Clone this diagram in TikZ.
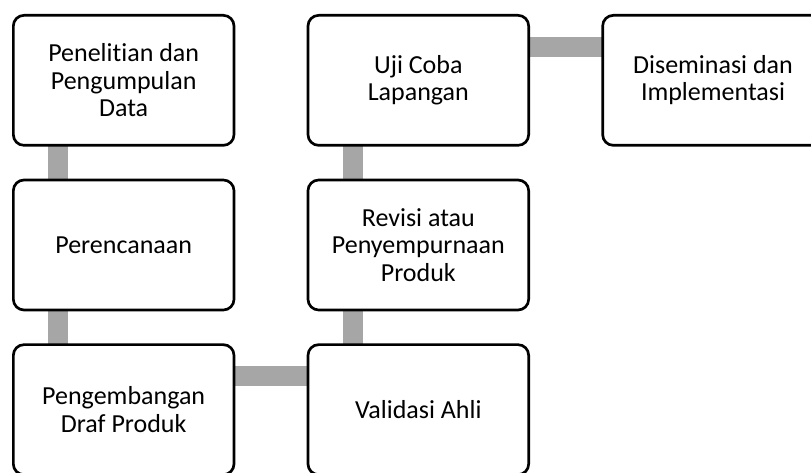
\documentclass[tikz,border=0pt]{standalone}
\usepackage{fontspec}
\setmainfont{Carlito}[Ligatures=CommonOff]
\usepackage{xcolor}
\usepackage{tikz}
\usetikzlibrary{positioning, backgrounds}
\definecolor{primaryColor}{RGB}{0,0,0}
\definecolor{linkColor}{RGB}{166,166,166}
\tikzstyle{stage} = [rectangle, minimum width=165.5pt, minimum height=97.5pt, align=center, draw=primaryColor, fill=white, text=primaryColor, line width=2pt, rounded corners=8pt, outer sep=0pt, font=\fontsize{19.5}{20.6}\selectfont]
\tikzstyle{link} = [line width=15pt, linkColor]

\begin{document}
\begin{tikzpicture}[node distance=26pt and 55.5pt]
        \useasboundingbox (0,0) rectangle (608.25pt,-354.75pt);
        \clip (0,0) rectangle (608.25pt,-354.75pt);

        \node (research) [stage, anchor=north west] at (10pt,-11.5pt) {Penelitian dan \\ Pengumpulan \\ Data};
        \node (plan) [stage, below=of research] {Perencanaan};
        \node (draft) [stage, below=of plan] {Pengembangan \\ Draf Produk};
        \node (validate) [stage, right=of draft] {Validasi Ahli};
        \node (revise) [stage, above=of validate] {Revisi atau \\ Penyempurnaan \\ Produk};
        \node (trial) [stage, above=of revise] {Uji Coba \\ Lapangan};
        \node (spread) [stage, right=of trial] {Diseminasi dan \\ Implementasi};

        \begin{scope}[on background layer]
        \draw [link] ([xshift=33.5pt]research.south west) -- ([xshift=33.5pt]plan.north west);
        \draw [link] ([xshift=33.5pt]plan.south west) -- ([xshift=33.5pt]draft.north west);
        \draw [link] ([yshift=-23.5pt]draft.north east) -- ([yshift=-23.5pt]validate.north west);
        \draw [link] ([xshift=33.5pt]validate.north west) -- ([xshift=33.5pt]revise.south west);
        \draw [link] ([xshift=33.5pt]revise.north west) -- ([xshift=33.5pt]trial.south west);
        \draw [link] ([yshift=-23.5pt]trial.north east) -- ([yshift=-23.5pt]spread.north west);
        \end{scope}
    \end{tikzpicture}
\end{document}
